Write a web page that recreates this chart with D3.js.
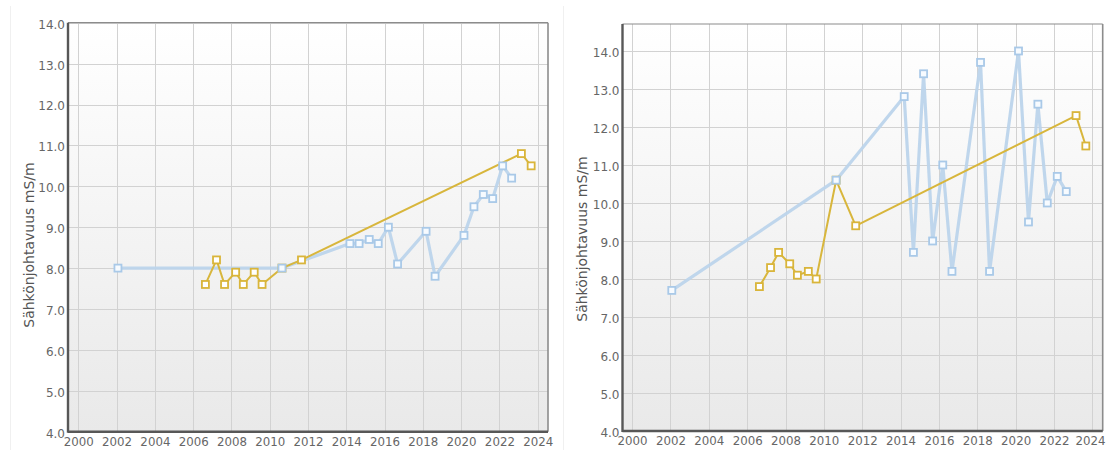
<!DOCTYPE html>
<html>
<head>
<meta charset="utf-8">
<script src="https://cdn.jsdelivr.net/npm/d3@7"></script>
<style>
  html, body { margin: 0; padding: 0; background: #ffffff; }
  svg { display: block; }
  text { font-family: "DejaVu Sans", Verdana, sans-serif; }
</style>
</head>
<body>
<svg id="chart" width="1106" height="450"></svg>
<script>
// Sampling times (decimal years), shared by both panels
const blueYears = [2002.07, 2010.64, 2014.19, 2014.67, 2015.2, 2015.67, 2016.2, 2016.68,
                   2018.17, 2018.64, 2020.15, 2020.67, 2021.16, 2021.65, 2022.17, 2022.64];
const yellowYears = [2006.64, 2007.22, 2007.64, 2008.22, 2008.62, 2009.19, 2009.6,
                     2010.64, 2011.66, 2023.15, 2023.66];

// Panel 1 values (mS/m)
const leftBlueValues = [8.0, 8.0, 8.6, 8.6, 8.7, 8.6, 9.0, 8.1,
                        8.9, 7.8, 8.8, 9.5, 9.8, 9.7, 10.5, 10.2];
const leftYellowValues = [7.6, 8.2, 7.6, 7.9, 7.6, 7.9, 7.6, 8.0, 8.2, 10.8, 10.5];

// Panel 2 values (mS/m)
const rightBlueValues = [7.7, 10.6, 12.8, 8.7, 13.4, 9.0, 11.0, 8.2,
                         13.7, 8.2, 14.0, 9.5, 12.6, 10.0, 10.7, 10.3];
const rightYellowValues = [7.8, 8.3, 8.7, 8.4, 8.1, 8.2, 8.0, 10.6, 9.4, 12.3, 11.5];

// Tick labels
const xTickYears = [2000, 2002, 2004, 2006, 2008, 2010, 2012, 2014, 2016, 2018, 2020, 2022, 2024];
const yTickValues = [4, 5, 6, 7, 8, 9, 10, 11, 12, 13, 14];
const yTitle = "Sähkönjohtavuus mS/m";

const svg = d3.select("#chart");
const W = 1106;

const defs = svg.append("defs");
const grad = defs.append("linearGradient")
  .attr("id", "plotBg").attr("x1", 0).attr("y1", 0).attr("x2", 0).attr("y2", 1);
grad.append("stop").attr("offset", "0%").attr("stop-color", "#ffffff");
grad.append("stop").attr("offset", "100%").attr("stop-color", "#e9e9e9");

// faint panel separators
svg.append("line").attr("x1", 10.5).attr("x2", 10.5).attr("y1", 6).attr("y2", 450)
  .attr("stroke", "#f0f0f0").attr("stroke-width", 1);
svg.append("line").attr("x1", 563.5).attr("x2", 563.5).attr("y1", 6).attr("y2", 450)
  .attr("stroke", "#f0f0f0").attr("stroke-width", 1);

function drawPanel(cfg) {
  const x = d3.scaleLinear().domain(cfg.xDomain).range([cfg.left, cfg.right]);
  const y = d3.scaleLinear().domain(cfg.yDomain).range([cfg.bottom, cfg.top]);
  const g = svg.append("g");

  // plot background
  g.append("rect")
    .attr("x", cfg.left).attr("y", cfg.top)
    .attr("width", cfg.right - cfg.left).attr("height", cfg.bottom - cfg.top)
    .attr("fill", "url(#plotBg)");

  // grid
  const xAxisGrid = d3.axisBottom(x).tickValues(xTickYears)
    .tickSize(-(cfg.bottom - cfg.top)).tickFormat("");
  g.append("g").attr("transform", `translate(0,${cfg.bottom})`).call(xAxisGrid)
    .call(s => s.select(".domain").remove())
    .call(s => s.selectAll("line").attr("stroke", "#d2d2d2").attr("shape-rendering", "crispEdges"));
  const yAxisGrid = d3.axisLeft(y).tickValues(yTickValues)
    .tickSize(-(cfg.right - cfg.left)).tickFormat("");
  g.append("g").attr("transform", `translate(${cfg.left},0)`).call(yAxisGrid)
    .call(s => s.select(".domain").remove())
    .call(s => s.selectAll("line").attr("stroke", "#d2d2d2").attr("shape-rendering", "crispEdges"));

  // top and right frame
  g.append("line").attr("x1", cfg.left).attr("x2", cfg.right)
    .attr("y1", cfg.top).attr("y2", cfg.top).attr("stroke", "#8c8c8c").attr("stroke-width", 1.2);
  g.append("line").attr("x1", cfg.right).attr("x2", cfg.right)
    .attr("y1", cfg.top).attr("y2", cfg.bottom).attr("stroke", "#8c8c8c").attr("stroke-width", 1.6);

  // axes labels
  const xAxis = d3.axisBottom(x).tickValues(xTickYears).tickSize(0).tickPadding(6)
    .tickFormat(d3.format("d"));
  g.append("g").attr("transform", `translate(0,${cfg.bottom})`).call(xAxis)
    .call(s => s.select(".domain").remove())
    .call(s => s.selectAll("text").attr("fill", "#666").attr("font-size", 11.8)
      .attr("font-family", '"DejaVu Sans", Verdana, sans-serif'))
    // keep the last year label inside the page edge
    .call(s => s.selectAll(".tick").each(function (d) {
      const px = x(d);
      const t = d3.select(this).select("text");
      const w = t.node().getComputedTextLength();
      if (px + w / 2 > W - 1) t.attr("text-anchor", "end").attr("x", W - 1 - px);
    }));
  const yAxis = d3.axisLeft(y).tickValues(yTickValues).tickSize(0).tickPadding(3)
    .tickFormat(d3.format(".1f"));
  g.append("g").attr("transform", `translate(${cfg.left},0)`).call(yAxis)
    .call(s => s.select(".domain").remove())
    .call(s => s.selectAll("text").attr("fill", "#666").attr("font-size", 12)
      .attr("dy", "0.45em")
      .attr("font-family", '"DejaVu Sans", Verdana, sans-serif'));

  // left and bottom axis lines
  g.append("line").attr("x1", cfg.left).attr("x2", cfg.left)
    .attr("y1", cfg.top).attr("y2", cfg.bottom + 1).attr("stroke", "#575757").attr("stroke-width", 2.4);
  g.append("line").attr("x1", cfg.left).attr("x2", cfg.right)
    .attr("y1", cfg.bottom).attr("y2", cfg.bottom).attr("stroke", "#575757").attr("stroke-width", 2.4);

  // y title
  g.append("text")
    .attr("transform", `translate(${cfg.titleX},${cfg.titleY}) rotate(-90)`)
    .attr("text-anchor", "middle")
    .attr("fill", "#555").attr("font-size", 14)
    .text(yTitle);

  const line = d3.line().x(d => x(d[0])).y(d => y(d[1]));
  const blue = d3.zip(blueYears, cfg.blue);
  const yellow = d3.zip(yellowYears, cfg.yellow);

  const plot = g.append("g");
  plot.append("path").datum(blue).attr("d", line)
    .attr("fill", "none").attr("stroke", "#bcd4eb").attr("stroke-width", 3.2)
    .attr("stroke-linejoin", "round").attr("opacity", 0.95);
  plot.append("path").datum(yellow).attr("d", line)
    .attr("fill", "none").attr("stroke", "#d8b63c").attr("stroke-width", 2)
    .attr("stroke-linejoin", "round");

  const m = 7;
  plot.selectAll(".my").data(yellow).join("rect").attr("class", "my")
    .attr("x", d => x(d[0]) - m / 2).attr("y", d => y(d[1]) - m / 2)
    .attr("width", m).attr("height", m)
    .attr("fill", "#ffffff").attr("stroke", "#d9b53a").attr("stroke-width", 1.8);
  plot.selectAll(".mb").data(blue).join("rect").attr("class", "mb")
    .attr("x", d => x(d[0]) - m / 2).attr("y", d => y(d[1]) - m / 2)
    .attr("width", m).attr("height", m)
    .attr("fill", "#f7fbff").attr("stroke", "#a9c9e8").attr("stroke-width", 1.8);
}

drawPanel({
  left: 68, right: 548, top: 22.7, bottom: 431.7,
  xDomain: [1999.46, 2024.54], yDomain: [4, 14],
  titleX: 34, titleY: 245,
  blue: leftBlueValues, yellow: leftYellowValues
});

drawPanel({
  left: 622.5, right: 1102.7, top: 24, bottom: 431,
  xDomain: [1999.5, 2024.54], yDomain: [4, 14.71],
  titleX: 587, titleY: 239,
  blue: rightBlueValues, yellow: rightYellowValues
});
</script>
</body>
</html>
